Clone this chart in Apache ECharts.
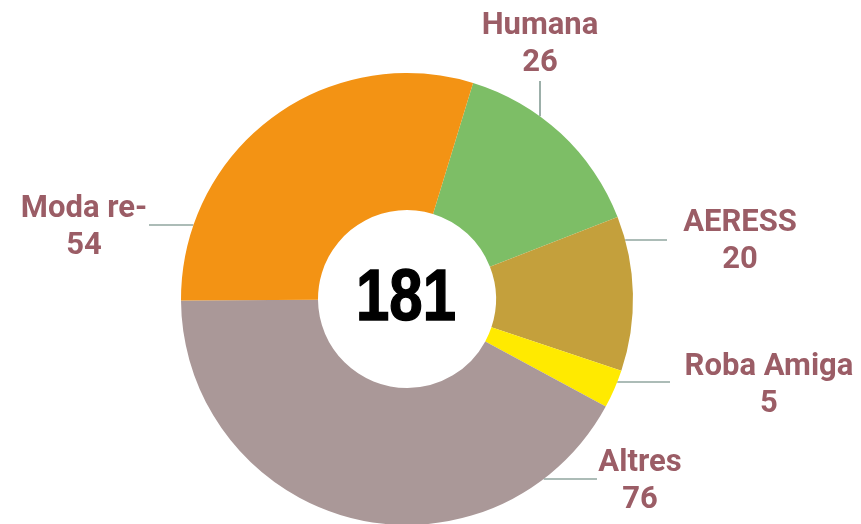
<!DOCTYPE html>
<html>
<head>
<meta charset="utf-8">
<script src="https://cdn.jsdelivr.net/npm/echarts@6/dist/echarts.min.js"></script>
<style>html,body{margin:0;padding:0;background:#fff;}#c{width:861px;height:524px;}</style>
</head>
<body>
<div id="c"></div>
<script>
const categories = ['Humana', 'AERESS', 'Roba Amiga', 'Altres', 'Moda re-'];
const values = [26, 20, 5, 76, 54];
const colors = ['#7dbe66', '#c4a03c', '#ffea00', '#aa9898', '#f39314'];
const totalLabel = '181';
const labelPos = [[540, 45], [740, 242], [769, 386], [640, 482], [84, 228]];
// leader lines: direction, fixed coordinate, free end near the label
const leaderSpec = [
  {dir: 'v', at: 540, end: 81},
  {dir: 'h', at: 240, end: 667},
  {dir: 'h', at: 382, end: 670},
  {dir: 'h', at: 479, end: 597},
  {dir: 'h', at: 225, end: 149}
];

const CX = 407, CY = 299, R0 = 89, R1 = 226;

function leaderPoints(i) {
  const s = leaderSpec[i];
  if (s.dir === 'v') {
    const dx = s.at - CX;
    const yEdge = CY - Math.sqrt(R1 * R1 - dx * dx);
    return [[s.at, yEdge], [s.at, (yEdge + s.end) / 2], [s.at, s.end]];
  }
  const dy = s.at - CY;
  const half = Math.sqrt(R1 * R1 - dy * dy);
  const xEdge = s.end > CX ? CX + half : CX - half;
  return [[xEdge, s.at], [(xEdge + s.end) / 2, s.at], [s.end, s.at]];
}

const chart = echarts.init(document.getElementById('c'), null, {renderer: 'canvas'});
chart.setOption({
  backgroundColor: '#ffffff',
  animation: false,
  graphic: [{
    type: 'text',
    x: 406, y: 300,
    scaleX: 0.82,
    z: 100,
    style: {
      text: totalLabel,
      font: 'bold 73px "Liberation Sans", Arial, sans-serif',
      fill: '#000',
      stroke: '#000',
      lineWidth: 1.5,
      textAlign: 'center',
      textVerticalAlign: 'middle'
    }
  }],
  series: [{
    type: 'pie',
    center: [CX, CY],
    radius: [R0, R1],
    startAngle: 73,
    clockwise: true,
    avoidLabelOverlap: false,
    itemStyle: {borderWidth: 0},
    data: categories.map((c, i) => ({name: c, value: values[i], itemStyle: {color: colors[i]}})),
    label: {
      show: true,
      formatter: '{b}\n{c}',
      fontFamily: 'Roboto',
      fontWeight: 'bold',
      fontSize: 31,
      lineHeight: 37,
      color: '#9b5d66',
      align: 'center'
    },
    labelLine: {show: true, length: 10, length2: 20, smooth: false, lineStyle: {color: '#5a7a70', width: 1.2}},
    labelLayout: function (p) {
      const pos = labelPos[p.dataIndex];
      return {x: pos[0], y: pos[1], align: 'center', verticalAlign: 'middle', labelLinePoints: leaderPoints(p.dataIndex)};
    }
  }]
});
</script>
</body>
</html>
